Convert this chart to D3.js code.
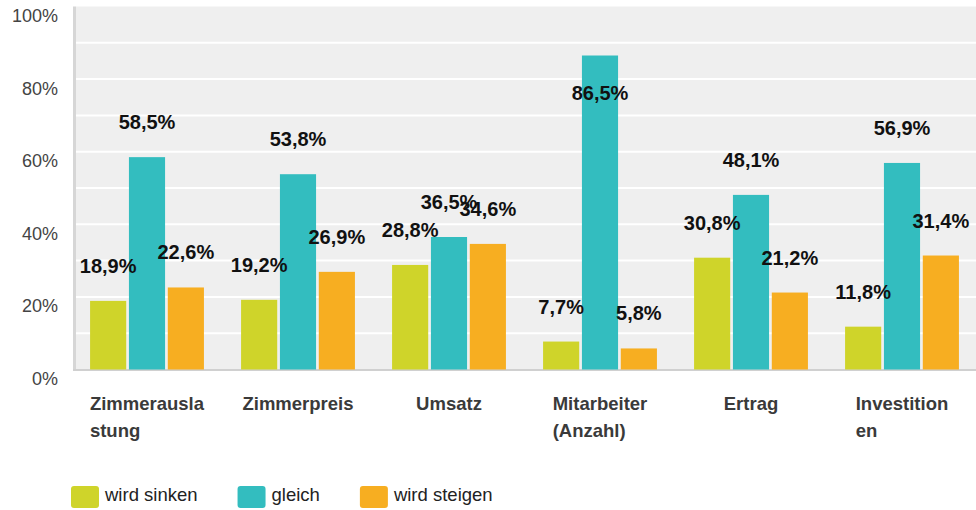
<!DOCTYPE html>
<html>
<head>
<meta charset="utf-8">
<script src="https://cdn.jsdelivr.net/npm/d3@7"></script>
<style>
	body { margin: 0; background: #fff; font-family: "Liberation Sans", Arial, sans-serif; }
	svg { display: block; }
</style>
</head>
<body>
<div id="chart"></div>
<script>
var width = 976
var height = 510

// category labels, already split the way the original wraps them
var categoryLines = [["Zimmerausla", "stung"], ["Zimmerpreis"], ["Umsatz"], ["Mitarbeiter", "(Anzahl)"], ["Ertrag"], ["Investition", "en"]];
var seriesNames = ["wird sinken", "gleich", "wird steigen"];
var sinken = [18.9, 19.2, 28.8, 7.7, 30.8, 11.8];
var gleich = [58.5, 53.8, 36.5, 86.5, 48.1, 56.9];
var steigen = [22.6, 26.9, 34.6, 5.8, 21.2, 31.4];
var yTicks = [0, 20, 40, 60, 80, 100];
var colors = ["#cfd42a", "#33bdbf", "#f7ae21"];

var seriesValues = [sinken, gleich, steigen];
var rows = categoryLines.map(function (lines, i) {
	return { idx: i, lines: lines, values: seriesValues.map(function (s) { return s[i]; }) };
});

var plotLeft = 76, plotRight = 976, plotTop = 6.5, plotBottom = 369.5;

var svg = d3.select("#chart")
	.append("svg")
	.attr("width", width)
	.attr("height", height);

var x0 = d3.scaleBand()
	.domain(d3.range(rows.length))
	.range([71.5, 977.5])
	.paddingInner(0.21)
	.paddingOuter(0.105);

var x1 = d3.scaleBand()
	.domain(d3.range(seriesNames.length))
	.range([0, x0.bandwidth()])
	.padding(0.07);

var y = d3.scaleLinear()
	.domain([0, 100])
	.range([plotBottom, plotTop]);

var de = d3.formatLocale({ decimal: ",", thousands: ".", grouping: [3], currency: ["", "€"] });
var fmt = de.format(".1f");

// plot background
svg.append("rect")
	.attr("x", plotLeft)
	.attr("y", plotTop)
	.attr("width", plotRight - plotLeft)
	.attr("height", plotBottom - plotTop)
	.attr("fill", "#efefef");

// gridlines every 10%
svg.append("g")
	.selectAll("line")
	.data(d3.range(10, 100, 10))
	.enter()
	.append("line")
	.attr("x1", plotLeft)
	.attr("x2", plotRight)
	.attr("y1", (d) => y(d))
	.attr("y2", (d) => y(d))
	.attr("stroke", "#fff")
	.attr("stroke-width", 2);

// y tick labels (sit a bit below their gridline, like the original)
svg.append("g")
	.selectAll("text")
	.data(yTicks)
	.enter()
	.append("text")
	.attr("x", 58)
	.attr("y", (d) => y(d) + 15.5)
	.attr("text-anchor", "end")
	.attr("font-size", 18)
	.attr("fill", "#444")
	.text((d) => d + "%");

// axis lines
svg.append("line")
	.attr("x1", 74.5).attr("x2", 74.5)
	.attr("y1", plotTop).attr("y2", plotBottom + 1.5)
	.attr("stroke", "#d6d6d6")
	.attr("stroke-width", 3);
svg.append("line")
	.attr("x1", 73).attr("x2", plotRight)
	.attr("y1", plotBottom + 0.5).attr("y2", plotBottom + 0.5)
	.attr("stroke", "#d0d0d0")
	.attr("stroke-width", 2);

var group = svg.append("g")
	.selectAll("g")
	.data(rows)
	.enter()
	.append("g")
	.attr("transform", (d) => "translate(" + x0(d.idx) + ",0)");

group.selectAll("rect")
	.data((d) => d.values)
	.enter()
	.append("rect")
	.attr("x", (d, i) => x1(i))
	.attr("y", (d) => y(d))
	.attr("width", x1.bandwidth())
	.attr("height", (d) => plotBottom - y(d))
	.attr("fill", (d, i) => colors[i]);

group.selectAll("text.value")
	.data((d) => d.values)
	.enter()
	.append("text")
	.attr("class", "value")
	.attr("x", (d, i) => x1(i) + x1.bandwidth() / 2)
	.attr("y", (d) => d > 80 ? y(d) + 44 : y(d) - 28)
	.attr("text-anchor", "middle")
	.attr("font-size", 20)
	.attr("font-weight", "bold")
	.attr("fill", "#111")
	.text((d) => fmt(d) + "%");

// category labels: lines left-aligned, block centred under the group
var catLabel = group.append("text")
	.attr("font-size", 18.5)
	.attr("font-weight", "bold")
	.attr("fill", "#3a3a3a");

catLabel.selectAll("tspan")
	.data((d) => d.lines)
	.enter()
	.append("tspan")
	.attr("y", (d, i) => 410 + i * 27)
	.text((d) => d);

catLabel.each(function () {
	var t = d3.select(this);
	var maxW = 0;
	t.selectAll("tspan").each(function () {
		maxW = Math.max(maxW, this.getComputedTextLength());
	});
	t.selectAll("tspan").attr("x", x0.bandwidth() / 2 - maxW / 2);
});

// legend
var legend = svg.append("g")
	.attr("transform", "translate(71,486)");

var lx = 0;
seriesNames.forEach(function (name, i) {
	var item = legend.append("g").attr("transform", "translate(" + lx + ",0)");
	item.append("rect")
		.attr("width", 28)
		.attr("height", 22)
		.attr("rx", 3)
		.attr("fill", colors[i]);
	var t = item.append("text")
		.attr("x", 34)
		.attr("y", 15)
		.attr("font-size", 18.5)
		.attr("fill", "#222")
		.text(name);
	lx += 34 + t.node().getComputedTextLength() + 40;
});
</script>
</body>
</html>
